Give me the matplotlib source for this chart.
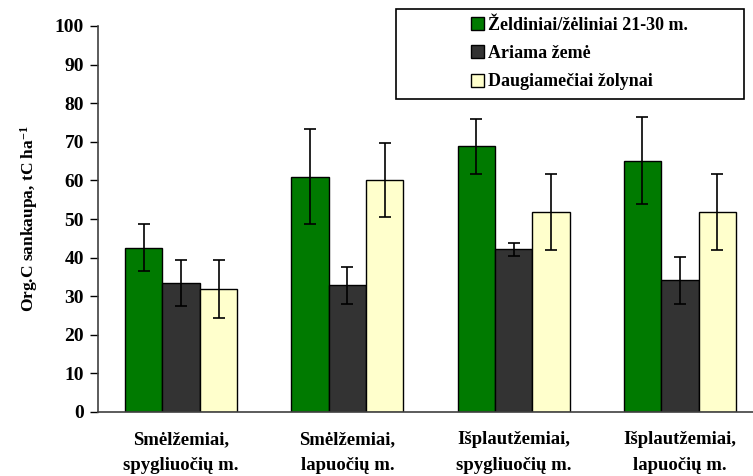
import matplotlib
matplotlib.use("Agg")
import matplotlib.pyplot as plt
import numpy as np
from matplotlib.patches import Rectangle

plt.rcParams["font.family"] = ["Liberation Serif", "DejaVu Serif"]
plt.rcParams["font.weight"] = "bold"
plt.rcParams["mathtext.fontset"] = "custom"
plt.rcParams["mathtext.rm"] = "Liberation Serif:bold"
plt.rcParams["mathtext.default"] = "rm"

categories = ["Smėlžemiai,\nspygliuočių m.", "Smėlžemiai,\nlapuočių m.",
              "Išplautžemiai,\nspygliuočių m.", "Išplautžemiai,\nlapuočių m."]
series_names = ["Želdiniai/žėliniai 21-30 m.", "Ariama žemė", "Daugiamečiai žolynai"]
green_vals = [42.6, 61.0, 68.8, 65.1]
green_err = [6.2, 12.2, 7.2, 11.2]
dark_vals = [33.4, 32.8, 42.1, 34.1]
dark_err = [6.0, 4.7, 1.7, 6.0]
yellow_vals = [31.9, 60.2, 51.8, 51.8]
yellow_err = [7.5, 9.6, 9.8, 9.8]
y_ticks = [0, 10, 20, 30, 40, 50, 60, 70, 80, 90, 100]

colors = ["#007A00", "#333333", "#FFFFCC"]
values = [green_vals, dark_vals, yellow_vals]
errors = [green_err, dark_err, yellow_err]

fig = plt.figure(figsize=(7.53, 4.76), dpi=100)
ax = fig.add_axes([98 / 753, 1 - 412 / 476, 1 - 98 / 753, (412 - 26) / 476])

x = np.arange(len(categories))
width = 0.225
handles = []
for i, (vals, errs, col) in enumerate(zip(values, errors, colors)):
    b = ax.bar(x + (i - 1) * width, vals, width, color=col, edgecolor="black",
               linewidth=1.0, label=series_names[i], zorder=2)
    ax.errorbar(x + (i - 1) * width, vals, yerr=errs, fmt="none", ecolor="black",
                elinewidth=1.2, capsize=4.5, capthick=1.2, zorder=3)
    handles.append(b)

ax.set_xlim(-0.5, 3.44)
ax.set_ylim(0, 100)
ax.set_yticks(y_ticks)
ax.set_xticks(x)
ax.set_xticklabels(categories, fontsize=13.5, fontweight="bold", linespacing=1.75)
ax.tick_params(axis="x", length=0, pad=13.5)
ax.tick_params(axis="y", direction="out", length=6, width=1, labelsize=14, pad=4)
for lab in ax.get_yticklabels():
    lab.set_fontweight("bold")

for s in ["top", "right"]:
    ax.spines[s].set_visible(False)
for s in ["left", "bottom"]:
    ax.spines[s].set_color("#404040")
    ax.spines[s].set_linewidth(1.2)

ax.set_ylabel("Org.C sankaupa, tC ha$^{-1}$", fontsize=12.5, fontweight="bold", labelpad=11)

# legend box
fig.patches.append(Rectangle((396 / 753, 1 - 99 / 476), (744 - 396) / 753, 90 / 476,
                             transform=fig.transFigure, fill=False, edgecolor="black",
                             linewidth=1.2))
fig.legend(handles=handles, labels=series_names, loc="upper left",
           bbox_to_anchor=(471 / 753, 1 - 17 / 476), frameon=False,
           prop={"weight": "bold", "size": 13}, handlelength=0.72, handleheight=0.72,
           handletextpad=0.2, labelspacing=0.62, borderpad=0, borderaxespad=0)

fig.savefig("out.png", dpi=100)
